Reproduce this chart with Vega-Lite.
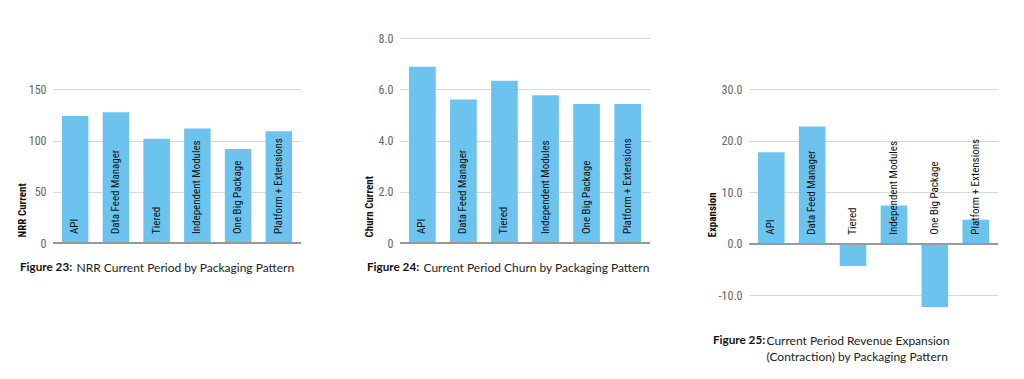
{
  "$schema": "https://vega.github.io/schema/vega-lite/v6.json",
  "background": "white",
  "padding": {"left": 16, "top": 32, "right": 5, "bottom": 5},
  "bounds": "flush",
  "spacing": 99,
  "config": {
    "view": {"stroke": null},
    "font": "Roboto Condensed, Liberation Sans Narrow, DejaVu Sans Condensed, sans-serif",
    "axisY": {
      "grid": true, "gridColor": "#d9d9d9", "gridWidth": 1,
      "domain": false, "ticks": false,
      "labelColor": "#666666", "labelFontSize": 12, "labelPadding": 7,
      "labelFont": "Roboto Condensed, Liberation Sans Narrow, DejaVu Sans Condensed, sans-serif",
      "titleFont": "Roboto Condensed, Liberation Sans Narrow, DejaVu Sans Condensed, sans-serif",
      "titleFontSize": 11, "titleFontWeight": "bold", "titleColor": "#111111",
      "titleAngle": 270, "titleAlign": "left", "titleBaseline": "middle", "titleX": -31, "titleY": 199
    },
    "axisX": {
      "labels": false, "ticks": false, "domain": false, "grid": false,
      "titleFont": "Lato, sans-serif", "titleFontSize": 12, "titleFontWeight": "normal",
      "titleColor": "#222222", "titleAlign": "left", "titleBaseline": "top", "titleLineHeight": 16
    },
    "title": {
      "font": "Lato, sans-serif", "fontSize": 11.7, "fontWeight": "bold", "color": "#111111",
      "orient": "bottom", "anchor": "start", "frame": "bounds", "offset": 0
    }
  },
  "datasets": {
    "d": [
      {"pattern": "API", "nrr": 124, "churn": 6.88, "expansion": 17.8},
      {"pattern": "Data Feed Manager", "nrr": 127.5, "churn": 5.6, "expansion": 22.8},
      {"pattern": "Tiered", "nrr": 101.8, "churn": 6.33, "expansion": -4.35},
      {"pattern": "Independent Modules", "nrr": 111.6, "churn": 5.77, "expansion": 7.45},
      {"pattern": "One Big Package", "nrr": 91.8, "churn": 5.42, "expansion": -12.3},
      {"pattern": "Platform + Extensions", "nrr": 109, "churn": 5.42, "expansion": 4.67}
    ]
  },
  "hconcat": [
    {
      "width": 248, "height": 205,
      "data": {"name": "d"},
      "title": {"text": "Figure 23:", "dy": -15, "dx": 4},
      "encoding": {
        "x": {"field": "pattern", "type": "nominal", "sort": null,
              "scale": {"paddingInner": 0.35, "paddingOuter": 0.22},
              "axis": {"title": "NRR Current Period by Packaging Pattern", "titleX": 23, "titlePadding": 19}}
      },
      "layer": [
        {"mark": {"type": "bar", "color": "#6cc4ee"},
         "encoding": {"y": {"field": "nrr", "type": "quantitative",
           "scale": {"domain": [0, 200], "nice": false},
           "axis": {"title": "NRR Current", "values": [0, 50, 100, 150]}}}},
        {"mark": {"type": "rule", "color": "#999999", "strokeWidth": 1.5},
         "encoding": {"y": {"datum": 0}, "x": null}},
        {"mark": {"type": "text", "angle": 270, "align": "left", "baseline": "middle", "dx": 9, "fontSize": 11, "color": "#111111"},
         "encoding": {"y": {"datum": 0}, "text": {"field": "pattern"}}}
      ]
    },
    {
      "width": 250, "height": 205,
      "data": {"name": "d"},
      "title": {"text": "Figure 24:", "dy": -15, "dx": 4},
      "encoding": {
        "x": {"field": "pattern", "type": "nominal", "sort": null,
              "scale": {"paddingInner": 0.35, "paddingOuter": 0.22},
              "axis": {"title": "Current Period Churn by Packaging Pattern", "titleX": 23, "titlePadding": 19}}
      },
      "layer": [
        {"mark": {"type": "bar", "color": "#6cc4ee"},
         "encoding": {"y": {"field": "churn", "type": "quantitative",
           "scale": {"domain": [0, 8], "nice": false},
           "axis": {"title": "Churn Current", "values": [0, 2, 4, 6, 8],
                    "labelExpr": "datum.value == 0 ? '0' : format(datum.value, '.1f')"}}}},
        {"mark": {"type": "rule", "color": "#999999", "strokeWidth": 1.5},
         "encoding": {"y": {"datum": 0}, "x": null}},
        {"mark": {"type": "text", "angle": 270, "align": "left", "baseline": "middle", "dx": 9, "fontSize": 11, "color": "#111111"},
         "encoding": {"y": {"datum": 0}, "text": {"field": "pattern"}}}
      ]
    },
    {
      "width": 249, "height": 270,
      "data": {"name": "d"},
      "title": {"text": "Figure 25:", "dy": -31, "dx": 7},
      "encoding": {
        "x": {"field": "pattern", "type": "nominal", "sort": null,
              "scale": {"paddingInner": 0.35, "paddingOuter": 0.22},
              "axis": {"title": ["Current Period Revenue Expansion", "(Contraction) by Packaging Pattern"], "titleX": 17, "titlePadding": 27}}
      },
      "layer": [
        {"mark": {"type": "bar", "color": "#6cc4ee"},
         "encoding": {"y": {"field": "expansion", "type": "quantitative",
           "scale": {"domain": [-12.5, 40], "nice": false, "zero": false},
           "axis": {"title": "Expansion", "titleX": -37, "values": [-10, 0, 10, 20, 30],
                    "labelExpr": "replace(format(datum.value, '.1f'), '\u2212', '-')"}}}},
        {"mark": {"type": "rule", "color": "#999999", "strokeWidth": 1.5},
         "encoding": {"y": {"datum": 0}, "x": null}},
        {"mark": {"type": "text", "angle": 270, "align": "left", "baseline": "middle", "dx": 9, "fontSize": 11, "color": "#111111"},
         "encoding": {"y": {"datum": 0}, "text": {"field": "pattern"}}}
      ]
    }
  ]
}
